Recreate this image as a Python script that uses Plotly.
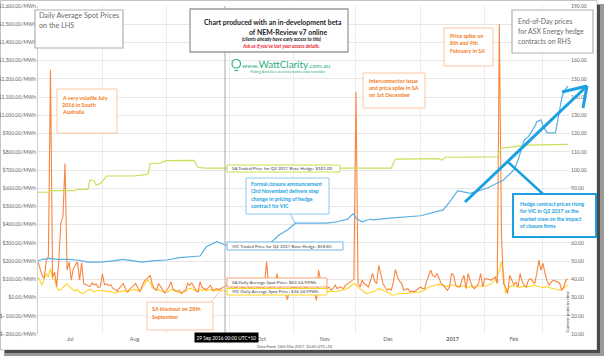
import pandas as pd
import plotly.graph_objects as go

# ---------------- data ----------------
start_date = "2016-07-01"

sa_jul = [196, 150, 120, 105, 205, 225, 1250, 110, 140, 60, 200, 408, 443, 736, 150, 196, 95, 159, 177, 196,
          95, 190, 77, 70, 65, 60, 80, 70, 75, 55, 60]
sa_aug = [130, 70, 75, 65, 70, 50, 45, 35, 50, 65, 77, 50, 31, 45, 58, 65, 77, 50, 31, 60, 86, 100, 113, 122,
          70, 50, 40, 77, 60, 40, 25]
sa_sep = [40, 58, 86, 45, 40, 35, 40, 22, 35, 40, 77, 68, 80, 58, 40, 31, 86, 55, 49, 44, 55, 68, 40, 45, 49,
          44, 50, 58, 64, 68]
sa_oct = [70, 55, 45, 60, 50, 40, 55, 60, 45, 50, 65, 55, 40, 50, 60, 55, 45, 70, 196, 60, 50, 45, 65, 132,
          60, 50, 45, 30, -12, 40, 55]
sa_nov = [50, 60, 45, 55, 40, 50, 60, 45, 40, 35, 30, -15, 150, 95, 68, 86, 49, 58, 40, 50, 68, 49, 58, 55,
          49, 68, 77, 85, 95, 100]
sa_dec = [1130, 77, 58, 95, 77, 65, 58, 95, 132, 90, 77, 177, 132, 77, 58, 40, 49, 40, 86, 154, 113, 90, 77,
          40, 45, 49, 31, 35, 31, 40, 45]
sa_jan = [58, 50, 49, 90, 120, 150, 120, 113, 132, 100, 77, 68, 55, 40, 58, 132, 122, 68, 60, 58, 95, 122, 49,
          132, 90, 58, 49, 65, 77, 132, 58]
sa_feb = [104, 104, 100, 95, 105, 113, 77, 1500, 350, 77, 58, 22, 122, 95, 68, 86, 58, 132, 86, 68, 58, 95,
          104, 90, 77, 132, 205, 150]
sa_mar = [187, 132, 90, 68, 86, 95, 90, 86, 80, 40, 58, 95, 100]

vic_jul = [113, 86, 68, 104, 132, 113, 159, 104, 100, 58, 40, 45, 55, 68, 77, 60, 50, 40, 35, 45, 30, 25, 22,
           35, 40, 45, 40, 30, 35, 40, 38]
vic_aug = [40, 35, 38, 30, 35, 28, 25, 30, 32, 35, 40, 38, 30, 35, 40, 45, 42, 38, 35, 50, 70, 86, 95, 80, 55,
           45, 40, 42, 38, 35, 28]
vic_sep = [30, 35, 45, 38, 35, 30, 28, 25, 30, 35, 45, 50, 48, 42, 35, 30, 45, 40, 42, 38, 40, 45, 38, 35, 40,
           38, 36, 38, 36, 40]
vic_oct = [38, 35, 40, 36, 33, 30, 35, 38, 40, 36, 32, 35, 38, 40, 42, 38, 35, 33, 40, 45, 38, 35, 33, 40, 45,
           38, 32, 28, 30, 35, 38]
vic_nov = [35, 38, 40, 35, 33, 30, 35, 38, 36, 33, 30, 28, 30, 40, 38, 40, 35, 31, 33, 35, 31, 35, 38, 40, 42,
           45, 50, 58, 68, 77]
vic_dec = [70, 58, 48, 40, 30, 22, 25, 28, 31, 35, 45, 49, 45, 40, 35, 30, 25, 20, 13, 15, 22, 25, 22, 22, 20,
           22, 25, 25, 28, 31, 28]
vic_jan = [30, 35, 40, 50, 58, 62, 65, 68, 70, 72, 68, 65, 62, 60, 65, 70, 68, 62, 58, 60, 65, 62, 58, 55, 60,
           62, 58, 60, 65, 62, 60]
vic_feb = [62, 65, 70, 75, 85, 95, 120, 150, 196, 130, 22, 45, 58, 65, 62, 60, 58, 55, 60, 62, 58, 60, 62, 65,
           68, 62, 60, 58]
vic_mar = [55, 58, 60, 55, 52, 50, 48, 45, 40, 42, 55, 62, 68]

# ASX hedge prices (right axis), day offsets from start_date
sa_hedge_days = [0, 5, 6, 18, 19, 24, 25, 27, 28, 30, 33, 46, 52, 53, 54, 59, 60, 62, 75, 77, 80, 170, 172, 193,
                 194, 195, 196, 221, 222, 223, 229, 236, 255]
sa_hedge_vals = [87.8, 87.8, 88.7, 88.7, 89.4, 89.4, 94.5, 94.0, 91.8, 92.5, 96.7, 96.7, 97.5, 98.0, 103.7,
                 103.7, 104.6, 105.1, 105.3, 101.5, 101.0, 101.0, 106.0, 106.2, 105.5, 106.0, 107.0, 107.2,
                 110.0, 111.9, 112.8, 113.7, 114.1]
vic_hedge_days = [0, 2, 6, 9, 14, 19, 24, 30, 36, 41, 46, 50, 55, 62, 68, 73, 78, 81, 84, 86, 89, 90, 100, 110,
                  116, 120, 124, 139, 144, 149, 151, 152, 153, 156, 160, 161, 168, 174, 184, 195, 198, 202, 208,
                  216, 221, 224, 227, 229, 231, 233, 234, 236, 239, 240, 242, 243, 245, 247, 249, 251, 252, 253,
                  255]
vic_hedge_vals = [50.1, 51.0, 51.5, 51.0, 51.0, 50.6, 49.4, 49.4, 50.1, 51.0, 50.1, 49.4, 50.1, 50.6, 51.9, 52.4,
                  52.8, 57.9, 59.4, 60.7, 59.4, 58.85, 56.5, 57.9, 64.3, 67.1, 70.8, 70.9, 71.6, 73.0, 75.3, 75.9,
                  73.5, 71.6, 73.1, 72.6, 73.5, 74.0, 74.9, 78.1, 82.3, 88.6, 87.2, 90.0, 92.7, 94.5, 97.8, 100.0,
                  105.5, 112.8, 116.5, 118.3, 123.8, 126.5, 127.5, 124.2, 120.5, 120.2, 120.5, 132.9, 139.4, 143.0,
                  146.0]

month_starts = ["2016-07-01", "2016-08-01", "2016-09-01", "2016-10-01", "2016-11-01", "2016-12-01",
                "2017-01-01", "2017-02-01", "2017-03-01"]
# Sep label sits under the crosshair date tooltip in the reference
month_labels = ["Jul", "Aug", "", "Oct", "Nov", "Dec", "<b>2017</b>", "Feb", "Mar"]
# right-axis ticks that are not hidden behind the callout boxes
rhs_ticks = [10, 20, 30, 40, 50, 60, 90, 100, 110, 120, 130, 140, 150, 160, 190]
x_range = ["2016-07-01", "2017-03-14"]
crosshair_date = "2016-09-29"

# ---------------- derived ----------------
sa_spot = sa_jul + sa_aug + sa_sep + sa_oct + sa_nov + sa_dec + sa_jan + sa_feb + sa_mar
vic_spot = vic_jul + vic_aug + vic_sep + vic_oct + vic_nov + vic_dec + vic_jan + vic_feb + vic_mar
t0 = pd.Timestamp(start_date)
dates = pd.date_range(t0, periods=len(sa_spot), freq="D")
sa_hedge_dates = [t0 + pd.Timedelta(days=d) for d in sa_hedge_days]
vic_hedge_dates = [t0 + pd.Timedelta(days=d) for d in vic_hedge_days]
ms = pd.to_datetime(month_starts)
mid_months = [m + (m + pd.offsets.MonthBegin(1) - m) / 2 for m in ms]

# ---------------- geometry helpers (pixel -> paper) ----------------
W, H = 604, 356
ML, MR, MT, MB = 38, 34, 6, 22
PW, PH = W - ML - MR, H - MT - MB
FONT = "Lato, 'Open Sans', sans-serif"


def px(x):
    return (x - ML) / PW


def py(y):
    return (H - MB - y) / PH


shapes = []
annotations = []


def rect(x0, y0, x1, y1, color, width=1.0, fill="white"):
    shapes.append(dict(type="rect", xref="paper", yref="paper", x0=px(x0), x1=px(x1), y0=py(y1), y1=py(y0),
                       line=dict(color=color, width=width), fillcolor=fill, layer="above"))


def seg(x0, y0, x1, y1, color, width=1.0):
    shapes.append(dict(type="line", xref="paper", yref="paper", x0=px(x0), x1=px(x1), y0=py(y0), y1=py(y1),
                       line=dict(color=color, width=width), layer="above"))


def lines(x, y0, dy, texts, size, color, anchor="left", bold=False, italic=False):
    for i, t in enumerate(texts):
        if bold:
            t = "<b>" + t + "</b>"
        if italic:
            t = "<i>" + t + "</i>"
        annotations.append(dict(xref="paper", yref="paper", x=px(x), y=py(y0 + i * dy), text=t, showarrow=False,
                                xanchor=anchor, yanchor="middle", align=anchor,
                                font=dict(family=FONT, size=size, color=color)))


# ---------------- figure ----------------
fig = go.Figure()
fig.add_trace(go.Scatter(x=sa_hedge_dates, y=sa_hedge_vals, mode="lines", yaxis="y2",
                         line=dict(color="#C8E05C", width=1.2), hoverinfo="skip"))
fig.add_trace(go.Scatter(x=vic_hedge_dates, y=vic_hedge_vals, mode="lines", yaxis="y2",
                         line=dict(color="#5AAFE2", width=1.2), hoverinfo="skip"))
fig.add_trace(go.Scatter(x=dates, y=vic_spot, mode="lines", line=dict(color="#FFD426", width=1.1)))
fig.add_trace(go.Scatter(x=dates, y=sa_spot, mode="lines", line=dict(color="#F7873F", width=1.1)))

# crosshair
shapes.append(dict(type="line", xref="x", yref="paper", x0=crosshair_date, x1=crosshair_date, y0=0, y1=1,
                   line=dict(color="#a8a8a8", width=1), layer="above"))

# frame and shadow
shapes.append(dict(type="rect", xref="paper", yref="paper", x0=px(0.5), x1=px(597), y0=py(350), y1=py(0.5),
                   line=dict(color="#c4c4c4", width=1), fillcolor="rgba(0,0,0,0)", layer="below"))
shapes.append(dict(type="rect", xref="paper", yref="paper", x0=px(597), x1=px(604), y0=py(356), y1=py(4),
                   line=dict(width=0), fillcolor="#9a9a9a", layer="above"))
shapes.append(dict(type="rect", xref="paper", yref="paper", x0=px(4), x1=px(604), y0=py(356), y1=py(350),
                   line=dict(width=0), fillcolor="#9a9a9a", layer="above"))
shapes.append(dict(type="rect", xref="paper", yref="paper", x0=px(597), x1=px(600), y0=py(353), y1=py(5),
                   line=dict(width=0), fillcolor="#4a4a4a", layer="above"))
shapes.append(dict(type="rect", xref="paper", yref="paper", x0=px(5), x1=px(600), y0=py(353), y1=py(350),
                   line=dict(width=0), fillcolor="#4a4a4a", layer="above"))

GRAY = "#6a6a6a"
ORANGE = "#F47B20"
BLUE = "#1BA1E2"

# LHS box
rect(35, 10, 123, 48, "#b0b0b0", 1.2)
lines(37, 15.7, 9.3, ["Daily Average Spot Prices", "on the LHS"], 7.2, GRAY)

# title box
rect(190, 9, 348, 52, "#9a9a9a", 1.3)
lines(273, 21.7, 10, ["Chart produced with an in-development beta"], 6.9, "#222", anchor="center", bold=True)
lines(288, 31.7, 10, ["of NEM-Review v7 online"], 6.9, "#222", anchor="center", bold=True)
lines(282, 39.3, 7, ["(clients already have early access to this)"], 4.7, "#222", anchor="center",
      bold=True, italic=True)
lines(281, 46.3, 7, ["Ask us if you've lost your access details."], 4.7, "#E8202A", anchor="center",
      bold=True, italic=True)

# logo
LOGO = "#2BAE7E"
shapes.append(dict(type="circle", xref="paper", yref="paper", x0=px(232), x1=px(240.5), y0=py(68), y1=py(59.5),
                   line=dict(color=LOGO, width=1.2), fillcolor="white", layer="above"))
seg(234.5, 70.5, 238, 70.5, LOGO, 1.2)
annotations.append(dict(xref="paper", yref="paper", x=px(240), y=py(63.5), showarrow=False, xanchor="left",
                        yanchor="middle",
                        text="<span style='font-size:6.5px'>www.</span>WattClarity"
                             "<span style='font-size:6.5px'>.com.au</span>",
                        font=dict(family=FONT, size=9.8, color=LOGO)))
lines(287, 71.7, 5, ["Making Australia's electricity market understandable"], 3.3, LOGO, anchor="center")

# RHS box
rect(512, 10, 593, 53, "#b0b0b0", 1.2)
lines(516, 20.7, 10, ["End-of-Day prices", "for ASX Energy hedge", "contracts on RHS"], 6.9, GRAY)

# orange callouts
rect(57, 89, 117, 133, "#F9C8A3", 1)
lines(60, 97.7, 7.3, ["A very volatile July", "2016 in South", "Australia"], 5.4, ORANGE, bold=True)
rect(363, 73, 425, 108, "#F9C8A3", 1)
lines(367, 80.7, 7.1, ["Interconnector issue", "and price spike in SA", "on 1st December"], 5.4, ORANGE, bold=True)
rect(444, 28, 493, 66, "#F9C8A3", 1)
lines(448, 35.7, 7.6, ["Price spike on", "8th and 9th", "February in SA"], 5.4, ORANGE, bold=True)
seg(211, 302, 227, 283, "#F9C8A3", 1)
rect(147, 302, 213, 330, "#F9C8A3", 1)
lines(150, 309.3, 7.4, ["SA blackout on 28th", "September"], 5.4, ORANGE, bold=True)

# blue callouts
seg(290, 214, 295, 223, "#8CCBEF", 1)
rect(246, 178, 329, 214, "#8CCBEF", 1)
lines(249, 184, 7.4, ["Formal closure announcement", "(3rd November) delivers step", "change in pricing of hedge",
                      "contract for VIC"], 5.3, BLUE, bold=True)
seg(465, 202, 587, 86, BLUE, 3)
seg(587, 86, 562, 92, BLUE, 3)
seg(587, 86, 583, 108, BLUE, 3)
seg(508, 162, 543, 194, BLUE, 2.5)
rect(513, 194, 596, 237, BLUE, 2)
lines(518, 204, 7.3, ["Hedge contract prices rising", "for VIC in Q2 2017 as the", "market view on the impact",
                      "of closure firms"], 5.2, BLUE, bold=True)

# crosshair value labels
rect(227, 165, 340, 172, "#C5DF4F", 1)
lines(230, 168.5, 7, ["SA Traded Price for Q2 2017 Base Hedge: $101.00"], 4.5, "#444")
rect(227, 242, 343, 250, "#6BB8E6", 1)
lines(230, 246, 7, ["VIC Traded Price for Q2 2017 Base Hedge: $58.85"], 4.5, "#444")
rect(227, 278, 327, 287, "#F7A472", 1)
lines(230, 282.5, 7, ["SA Daily Average Spot Price: $63.54/MWh"], 4.5, "#444")
rect(227, 288.5, 327, 295, "#F9D423", 1)
lines(230, 291.8, 7, ["VIC Daily Average Spot Price: $36.34/MWh"], 4.5, "#444")

# current point in time
annotations.append(dict(xref="paper", yref="paper", x=px(566.5), y=py(312), text="Current point in time",
                        showarrow=False, textangle=-90, xanchor="center", yanchor="middle",
                        font=dict(family=FONT, size=4.5, color="#444")))

# crosshair date tooltip
annotations.append(dict(xref="paper", yref="paper", x=px(226), y=py(337.5), text="29 Sep 2016 00:00 UTC+10",
                        showarrow=False, xanchor="center", yanchor="middle", bgcolor="#000000", borderpad=1.5,
                        font=dict(family=FONT, size=4.8, color="white")))
# footer
lines(295, 346.5, 5, ["Data From: 14th Mar 2017, 10:45 UTC+10"], 4, "#555", anchor="center")

fig.update_layout(
    width=W, height=H,
    margin=dict(l=ML, r=MR, t=MT, b=MB, autoexpand=False),
    paper_bgcolor="white", plot_bgcolor="white",
    showlegend=False,
    hovermode=False,
    xaxis=dict(type="date", range=x_range, tickmode="array", tickvals=mid_months, ticktext=month_labels,
               showgrid=False, ticks="", zeroline=False, showline=False,
               tickfont=dict(family=FONT, size=5.5, color="#666"),
               minor=dict(tickmode="array", tickvals=month_starts, showgrid=True, gridcolor="#ececec",
                          gridwidth=1, ticks="")),
    yaxis=dict(range=[-200, 1600], dtick=100, tick0=0, tickprefix="$", tickformat=",.2f", ticksuffix="/MWh",
               showgrid=True, gridcolor="#e6e6e6", gridwidth=1, zeroline=False, showline=True,
               linecolor="#d0d0d0", ticks="", tickfont=dict(family=FONT, size=5, color="#666")),
    yaxis2=dict(range=[10, 190], tickmode="array", tickvals=rhs_ticks, tickprefix="$", tickformat=".2f",
                overlaying="y", side="right", showgrid=False, zeroline=False, showline=False, ticks="",
                tickfont=dict(family=FONT, size=5, color="#666")),
    shapes=shapes,
    annotations=annotations,
)

fig.write_html("out.html", config={"displayModeBar": False},
               post_script="document.body.style.margin='0px';")
